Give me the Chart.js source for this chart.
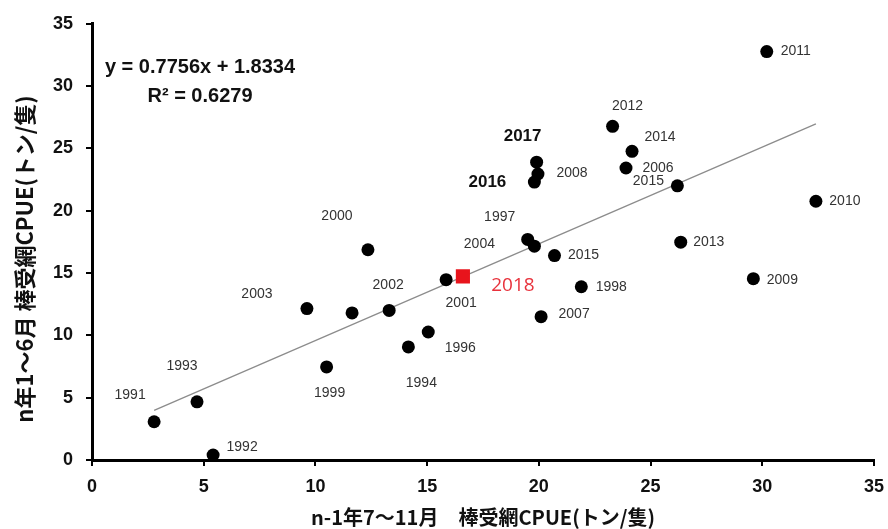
<!DOCTYPE html>
<html>
<head>
<meta charset="utf-8">
<script src="https://cdn.jsdelivr.net/npm/chart.js@4"></script>
<style>
  html, body { margin: 0; padding: 0; background: #fff; }
  #wrap { width: 888px; height: 529px; }
</style>
</head>
<body>
<div id="wrap"><canvas id="chart1" width="888" height="529"></canvas></div>
<script>
// yearly points: x = n-1 Jul-Nov CPUE, y = n Jan-Jun CPUE
const years = ['1991', '1992', '1993', '1994', '1996', '1997', '1998', '1999', '2000', '2001',
               '2002', '2003', '2004', '2006', '2007', '2008', '2009', '2010', '2011', '2012',
               '2013', '2014', '2015', '2015', '2016', '2017', ''];
const xVals = [2.78, 5.42, 4.70, 14.16, 15.05, 19.5, 21.9, 10.5, 12.35, 15.85,
               13.3, 9.62, 19.8, 23.9, 20.1, 19.96, 29.6, 32.4, 30.2, 23.3,
               26.35, 24.17, 20.7, 26.2, 19.8, 19.9, 11.64];
const yVals = [3.07, 0.40, 4.67, 9.07, 10.27, 17.7, 13.9, 7.47, 16.87, 14.47,
               12.0, 12.15, 17.16, 23.43, 11.5, 22.95, 14.55, 20.76, 32.77, 26.77,
               17.48, 24.77, 16.4, 22.0, 22.3, 23.9, 11.8];

// current year
const yearNow = '2018';
const xNow = [16.6];
const yNow = [14.73];

// linear fit shown on chart
const slope = 0.7756;
const intercept = 1.8334;
const r2 = '0.6279';

const xTicks = [0, 5, 10, 15, 20, 25, 30, 35];
const yTicks = [0, 5, 10, 15, 20, 25, 30, 35];
const xTitle = 'n-1年7～11月　棒受網CPUE(トン/隻)';
const yTitle = 'n年1～6月 棒受網CPUE(トン/隻)';

// label offsets from each point (px)
const labelOffsets = [
    [-24, -27], [29, -8], [-15, -36], [13, 36], [32, 16], [-28, -22], [30, 0], [3, 26], [-31, -34], [15, 23],
    [-1, -25], [-50, -14], [-55, -2], [32, 0], [33, -3], [34, -1], [29, 1], [29, 0], [29, 0], [15, -20],
    [28, 0], [28, -14], [29, 0], [-29, -5], [-47, 0], [-14, -26], [0, 0]
];
const boldYears = ['2016', '2017'];

const xMin = Math.min(...xVals);
const xMax = Math.max(...xVals);
const trend = [
    { x: xMin, y: slope * xMin + intercept },
    { x: xMax, y: slope * xMax + intercept }
];

const labelPlugin = {
    id: 'yearLabels',
    afterDatasetsDraw(chart) {
        const ctx = chart.ctx;
        const meta = chart.getDatasetMeta(1);
        ctx.save();
        ctx.textAlign = 'center';
        ctx.textBaseline = 'middle';
        meta.data.forEach((pt, i) => {
            const yr = years[i];
            if (!yr) return;
            const off = labelOffsets[i];
            if (boldYears.includes(yr)) {
                ctx.font = 'bold 17px "Liberation Sans", Arial, sans-serif';
                ctx.fillStyle = '#111';
            } else {
                ctx.font = '14px "Liberation Sans", Arial, sans-serif';
                ctx.fillStyle = '#333';
            }
            ctx.fillText(yr, pt.x + off[0], pt.y + off[1]);
        });
        const m2 = chart.getDatasetMeta(0).data[0];
        ctx.font = '19px "Open Sans", "Liberation Sans", sans-serif';
        ctx.fillStyle = '#e8323c';
        ctx.fillText(yearNow, m2.x + 50, m2.y + 9);

        ctx.fillStyle = '#111';
        ctx.font = 'bold 20px "Liberation Sans", Arial, sans-serif';
        ctx.fillText('y = ' + slope + 'x + ' + intercept, 200, 67);
        ctx.fillText('R\u00B2 = ' + r2, 200, 96);

        // y axis title, drawn by hand so it sits a bit lower like the original
        ctx.translate(25, 259);
        ctx.rotate(-Math.PI / 2);
        ctx.font = 'bold 22px "Noto Sans CJK JP", sans-serif';
        ctx.fillText(yTitle, 0, 0);
        ctx.restore();
    }
};

document.addEventListener('DOMContentLoaded', (event) => {
    const ctx1 = document.getElementById('chart1').getContext('2d');
    const chart1 = new Chart(ctx1, {
        type: 'scatter',
        data: {
            datasets: [{
                label: yearNow,
                data: xNow.map((x, i) => ({ x: x, y: yNow[i] })),
                pointStyle: 'rect',
                pointRadius: 10,
                backgroundColor: '#e8141c',
                borderColor: '#e8141c',
                borderWidth: 0,
                order: 0
            }, {
                label: 'CPUE',
                data: xVals.map((x, i) => ({ x: x, y: yVals[i] })),
                pointRadius: 6.5,
                backgroundColor: '#000',
                borderColor: '#000',
                borderWidth: 0,
                order: 1
            }, {
                label: 'trend',
                type: 'line',
                data: trend,
                borderColor: '#8c8c8c',
                borderWidth: 1.3,
                pointRadius: 0,
                fill: false,
                order: 3
            }]
        },
        options: {
            responsive: false,
            animation: false,
            layout: { padding: { top: 23, right: 14, left: 0, bottom: 0 } },
            plugins: {
                legend: { display: false },
                tooltip: { enabled: false }
            },
            scales: {
                x: {
                    type: 'linear',
                    min: 0,
                    max: 35,
                    afterBuildTicks: (s) => { s.ticks = xTicks.map(v => ({ value: v })); },
                    afterFit: (s) => { s.height = 69; s.paddingLeft = 0; s.paddingRight = 0; },
                    border: { display: true, color: '#000', width: 3 },
                    grid: { drawOnChartArea: false, drawTicks: true, tickLength: 6, color: '#000', lineWidth: 2 },
                    ticks: {
                        color: '#111',
                        padding: 10,
                        font: { size: 18, weight: 'bold', family: '"Liberation Sans", Arial, sans-serif' }
                    },
                    title: {
                        display: true,
                        text: xTitle,
                        color: '#111',
                        padding: { top: 2, bottom: 0 },
                        font: { size: 20, weight: 'bold', family: '"Noto Sans CJK JP", sans-serif' }
                    }
                },
                y: {
                    type: 'linear',
                    min: 0,
                    max: 35,
                    afterBuildTicks: (s) => { s.ticks = yTicks.map(v => ({ value: v })); },
                    afterFit: (s) => { s.width = 92; },
                    border: { display: true, color: '#000', width: 3 },
                    grid: { drawOnChartArea: false, drawTicks: true, tickLength: 6, color: '#000', lineWidth: 2 },
                    ticks: {
                        color: '#111',
                        padding: 13,
                        font: { size: 18, weight: 'bold', family: '"Liberation Sans", Arial, sans-serif' }
                    },
                    title: { display: false }
                }
            }
        },
        plugins: [labelPlugin]
    });
});
</script>
</body>
</html>
